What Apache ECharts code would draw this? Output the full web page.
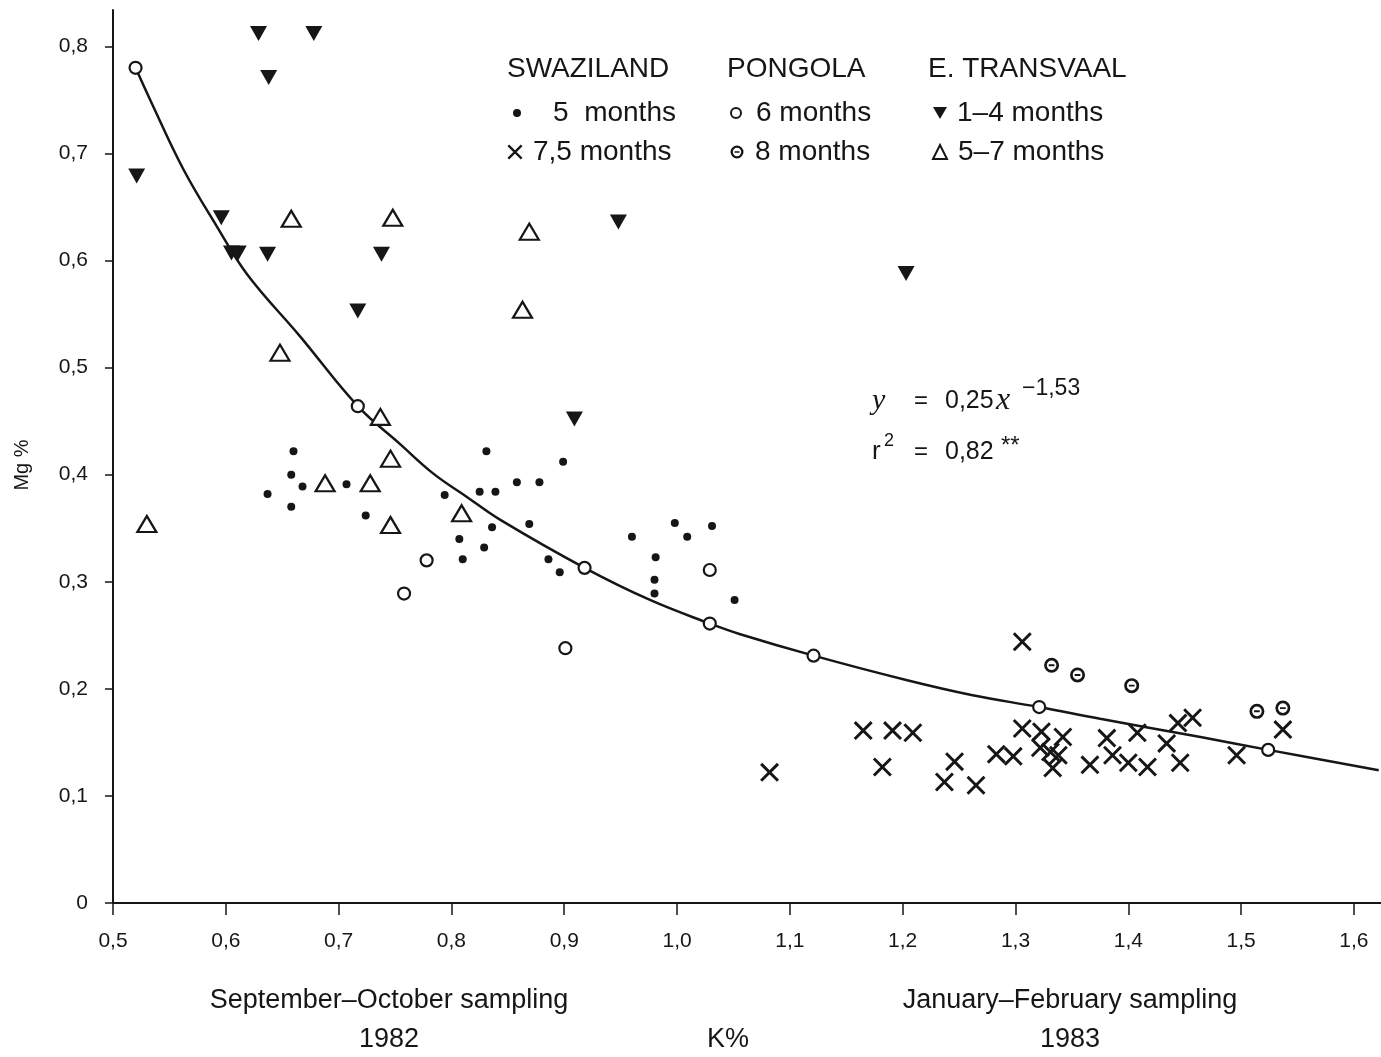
<!DOCTYPE html>
<html>
<head>
<meta charset="utf-8">
<script src="https://cdn.jsdelivr.net/npm/echarts@6/dist/echarts.min.js"></script>
<style>
    html, body { margin: 0; padding: 0; background: #fff; }
    #chart { width: 1381px; height: 1057px; }
</style>
</head>
<body>
<div id="chart"></div>
<script>
// tick labels
const xTicks = [0.5, 0.6, 0.7, 0.8, 0.9, 1.0, 1.1, 1.2, 1.3, 1.4, 1.5, 1.6]
const yTicks = [0, 0.1, 0.2, 0.3, 0.4, 0.5, 0.6, 0.7, 0.8]

// Swaziland, 5 months
const swazi5K = [0.660, 0.658, 0.668, 0.637, 0.658, 0.707, 0.724, 0.794, 0.825, 0.839, 0.831, 0.836, 0.807, 0.829, 0.810,
    0.899, 0.858, 0.878, 0.869, 0.886, 0.896, 0.960, 0.998, 1.009, 1.031, 0.981, 0.980, 0.980, 1.051]
const swazi5Mg = [0.422, 0.400, 0.389, 0.382, 0.370, 0.391, 0.362, 0.381, 0.384, 0.384, 0.422, 0.351, 0.340, 0.332, 0.321,
    0.412, 0.393, 0.393, 0.354, 0.321, 0.309, 0.342, 0.355, 0.342, 0.352, 0.323, 0.302, 0.289, 0.283]

// Swaziland, 7,5 months
const swazi75K = [1.082, 1.165, 1.191, 1.209, 1.182, 1.246, 1.237, 1.265, 1.283, 1.298, 1.306, 1.306, 1.323, 1.322, 1.331,
    1.342, 1.338, 1.333, 1.381, 1.386, 1.366, 1.400, 1.417, 1.408, 1.434, 1.444, 1.457, 1.446, 1.496, 1.537]
const swazi75Mg = [0.122, 0.161, 0.161, 0.159, 0.127, 0.132, 0.113, 0.110, 0.139, 0.137, 0.244, 0.163, 0.160, 0.145, 0.141,
    0.155, 0.138, 0.126, 0.154, 0.138, 0.129, 0.131, 0.127, 0.159, 0.149, 0.168, 0.173, 0.131, 0.138, 0.162]

// Pongola, 6 months
const pong6K = [0.520, 0.717, 0.918, 1.029, 1.121, 1.321, 1.524, 0.778, 0.758, 0.901, 1.029]
const pong6Mg = [0.780, 0.464, 0.313, 0.261, 0.231, 0.183, 0.143, 0.320, 0.289, 0.238, 0.311]

// Pongola, 8 months
const pong8K = [1.332, 1.355, 1.403, 1.514, 1.537]
const pong8Mg = [0.222, 0.213, 0.203, 0.179, 0.182]

// E. Transvaal, 1-4 months
const etv14K = [0.629, 0.678, 0.638, 0.521, 0.596, 0.605, 0.611, 0.637, 0.738, 0.717, 0.948, 1.203, 0.909]
const etv14Mg = [0.812, 0.812, 0.771, 0.679, 0.640, 0.607, 0.607, 0.606, 0.606, 0.553, 0.636, 0.588, 0.452]

// E. Transvaal, 5-7 months
const etv57K = [0.530, 0.658, 0.748, 0.869, 0.863, 0.648, 0.737, 0.746, 0.688, 0.728, 0.746, 0.809]
const etv57Mg = [0.354, 0.639, 0.640, 0.627, 0.554, 0.514, 0.454, 0.415, 0.392, 0.392, 0.353, 0.364]

// fitted curve
const curveK = [0.520, 0.533, 0.562, 0.592, 0.619, 0.666, 0.717, 0.754, 0.784, 0.814, 0.843, 0.918, 0.976, 1.029,
    1.056, 1.121, 1.204, 1.262, 1.321, 1.375, 1.464, 1.524, 1.622]
const curveMg = [0.780, 0.750, 0.686, 0.632, 0.587, 0.529, 0.464, 0.429, 0.401, 0.379, 0.358, 0.313, 0.283, 0.261,
    0.251, 0.231, 0.208, 0.194, 0.183, 0.172, 0.155, 0.143, 0.124]

const FONT = '"Liberation Sans", Arial, sans-serif'
const SERIF = '"Liberation Serif", "Times New Roman", serif'
const INK = '#161616'

const X_PATH = 'path://M0,2.2L2.2,0L20,17.8L17.8,20ZM17.8,0L20,2.2L2.2,20L0,17.8Z'
const DOWN_TRI = 'path://M0,0L20,0L10,17.3Z'
const RING_PATH = 'path://M0,10A10,10,0,1,1,20,10A10,10,0,1,1,0,10Z' +
    'M3.6,10A6.4,6.4,0,1,0,16.4,10A6.4,6.4,0,1,0,3.6,10Z' +
    'M6.2,8.7L13.8,8.7L13.8,11.3L6.2,11.3Z'

const pairs = (k, m) => k.map((v, i) => [v, m[i]])
const comma = v => v.toFixed(1).replace('.', ',')

const scatter = (name, k, m, extra) => Object.assign({
    name,
    type: 'scatter',
    data: pairs(k, m),
    z: 3,
    silent: true
}, extra)

// square icon centred on cx, text starting at tx
const legendItem = (name, cx, cy, size, tx) => ({
    data: [name],
    left: cx - size / 2,
    top: cy - 16,
    itemWidth: size,
    itemHeight: size,
    padding: 0,
    selectedMode: false,
    textStyle: {
        fontSize: 28,
        fontFamily: FONT,
        color: INK,
        lineHeight: 32,
        padding: [0, 0, 0, tx - (cx + size / 2 + 5)]
    }
})

const text = (x, y, str, font, extra) => Object.assign({
    type: 'text',
    x,
    y,
    silent: true,
    style: Object.assign({
        text: str,
        font,
        fill: INK,
        align: 'center',
        verticalAlign: 'middle'
    }, extra || {})
})

const chart = echarts.init(document.getElementById('chart'), null, { renderer: 'canvas' })

chart.setOption({
    animation: false,
    backgroundColor: '#fff',
    grid: { left: 113, right: 0, top: 10, bottom: 154, containLabel: false },
    xAxis: {
        type: 'value',
        min: 0.5,
        max: 1.624,
        axisLine: { show: true, onZero: false, lineStyle: { color: INK, width: 2 } },
        axisTick: { show: true, length: 12, customValues: xTicks, lineStyle: { color: INK, width: 1.5 } },
        axisLabel: {
            customValues: xTicks,
            formatter: v => comma(v),
            margin: 28,
            fontSize: 21,
            fontFamily: FONT,
            color: INK
        },
        splitLine: { show: false }
    },
    yAxis: {
        type: 'value',
        min: 0,
        max: 0.834,
        axisLine: { show: true, onZero: false, lineStyle: { color: INK, width: 2 } },
        axisTick: { show: true, length: 8, customValues: yTicks, lineStyle: { color: INK, width: 1.5 } },
        axisLabel: {
            customValues: yTicks,
            formatter: v => v === 0 ? '0' : comma(v),
            margin: 25,
            fontSize: 21,
            fontFamily: FONT,
            color: INK
        },
        splitLine: { show: false }
    },
    legend: [
        legendItem('5  months', 517, 113, 8, 553),
        legendItem('7,5 months', 515, 152, 15, 533),
        legendItem('6 months', 735, 113, 10, 755),
        legendItem('8 months', 737, 152, 13, 755),
        legendItem('1–4 months', 940, 113, 14, 957),
        legendItem('5–7 months', 939, 152, 14, 957)
    ],
    series: [
        {
            name: 'curve',
            type: 'line',
            data: pairs(curveK, curveMg),
            showSymbol: false,
            smooth: 0.4,
            silent: true,
            z: 2,
            lineStyle: { color: INK, width: 2.5 }
        },
        scatter('5  months', swazi5K, swazi5Mg, {
            symbol: 'circle',
            symbolSize: 8,
            itemStyle: { color: INK, opacity: 1 }
        }),
        scatter('7,5 months', swazi75K, swazi75Mg, {
            symbol: X_PATH,
            symbolSize: 19,
            itemStyle: { color: INK, opacity: 1 }
        }),
        scatter('6 months', pong6K, pong6Mg, {
            symbol: 'circle',
            symbolSize: 12,
            itemStyle: { color: '#fff', borderColor: INK, borderWidth: 2.2, opacity: 1 }
        }),
        scatter('8 months', pong8K, pong8Mg, {
            symbol: RING_PATH,
            symbolSize: 15,
            itemStyle: { color: INK, opacity: 1 }
        }),
        scatter('1–4 months', etv14K, etv14Mg, {
            symbol: DOWN_TRI,
            symbolSize: [17, 15],
            itemStyle: { color: INK, opacity: 1 }
        }),
        scatter('5–7 months', etv57K, etv57Mg, {
            symbol: 'triangle',
            symbolSize: [19, 16],
            itemStyle: { color: '#fff', borderColor: INK, borderWidth: 2.2, opacity: 1 }
        })
    ],
    graphic: [
        // legend headers
        text(507, 69, 'SWAZILAND', `28px ${ FONT }`, { align: 'left' }),
        text(727, 69, 'PONGOLA', `28px ${ FONT }`, { align: 'left' }),
        text(928, 69, 'E. TRANSVAAL', `28px ${ FONT }`, { align: 'left' }),
        // regression
        text(872, 401, 'y', `italic 30px ${ SERIF }`, { align: 'left' }),
        text(914, 401, '=', `24px ${ FONT }`, { align: 'left' }),
        text(945, 401, '0,25', `25px ${ FONT }`, { align: 'left' }),
        text(996, 401, 'x', `italic 32px ${ SERIF }`, { align: 'left' }),
        text(1022, 389, '−1,53', `23px ${ FONT }`, { align: 'left' }),
        text(872, 452, 'r', `26px ${ FONT }`, { align: 'left' }),
        text(884, 441, '2', `18px ${ FONT }`, { align: 'left' }),
        text(914, 452, '=', `24px ${ FONT }`, { align: 'left' }),
        text(945, 452, '0,82', `25px ${ FONT }`, { align: 'left' }),
        text(1001, 446, '**', `24px ${ FONT }`, { align: 'left' }),
        // axis titles and sampling notes
        Object.assign(text(22, 465, 'Mg %', `20px ${ FONT }`), { rotation: Math.PI / 2 }),
        text(389, 1001, 'September–October sampling', `27px ${ FONT }`),
        text(389, 1040, '1982', `27px ${ FONT }`),
        text(728, 1040, 'K%', `27px ${ FONT }`),
        text(1070, 1001, 'January–February sampling', `27px ${ FONT }`),
        text(1070, 1040, '1983', `27px ${ FONT }`)
    ]
})
</script>
</body>
</html>
